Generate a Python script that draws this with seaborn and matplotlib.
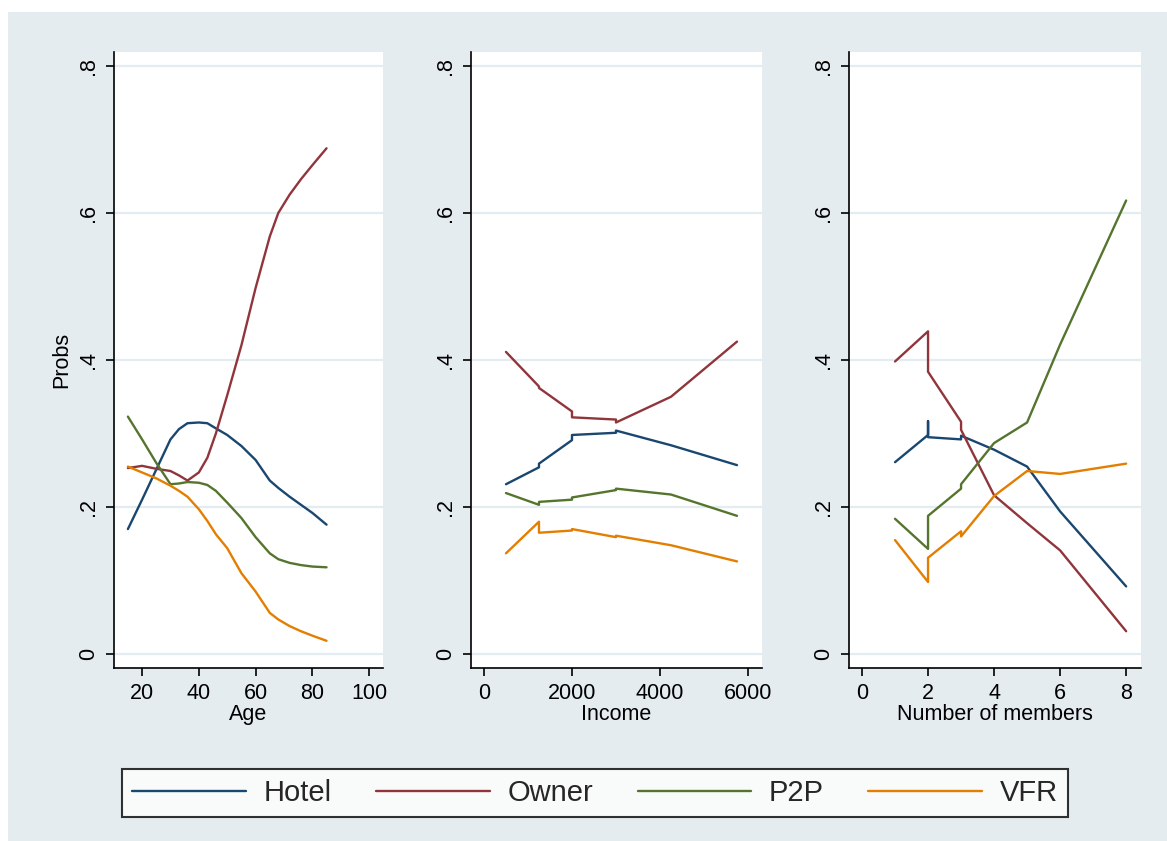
import numpy as np
import pandas as pd
import matplotlib
matplotlib.use("Agg")
import matplotlib.pyplot as plt
from matplotlib.patches import Rectangle
import seaborn as sns

# ---- data ----
alts = ["Hotel", "Owner", "P2P", "VFR"]
colors = ["#1a476f", "#90353b", "#55752f", "#e37e00"]

age = [15, 20, 25, 30, 33, 36, 40, 43, 46, 50, 55, 60, 65, 68, 72, 76, 80, 85]
age_hotel = [.170, .210, .251, .292, .306, .314, .315, .314, .307, .298, .283, .264, .236, .226, .214, .203, .192, .176]
age_owner = [.253, .256, .252, .249, .243, .236, .247, .267, .300, .352, .420, .498, .568, .600, .625, .646, .665, .688]
age_p2p = [.323, .292, .260, .231, .232, .234, .233, .230, .222, .206, .185, .159, .137, .129, .124, .121, .119, .118]
age_vfr = [.255, .247, .239, .229, .222, .214, .197, .181, .163, .144, .110, .085, .056, .047, .038, .031, .025, .018]

income = [500, 1250, 1250, 2000, 2000, 3000, 3000, 4250, 5750]
inc_hotel = [.231, .254, .259, .291, .298, .301, .304, .284, .257]
inc_owner = [.411, .364, .362, .330, .322, .319, .315, .350, .425]
inc_p2p = [.219, .203, .207, .210, .213, .223, .225, .217, .188]
inc_vfr = [.137, .180, .165, .168, .170, .159, .161, .148, .126]

members = [1, 2, 2, 2, 3, 3, 4, 5, 6, 8]
mem_hotel = [.261, .298, .317, .295, .292, .297, .278, .255, .194, .092]
mem_owner = [.398, .439, .439, .384, .316, .305, .216, .178, .141, .031]
mem_p2p = [.184, .143, .143, .188, .225, .231, .287, .315, .421, .617]
mem_vfr = [.155, .098, .098, .131, .167, .160, .215, .249, .245, .259]


def long_df(x, series):
    rows = []
    for name, vals in zip(alts, series):
        for i, (xv, yv) in enumerate(zip(x, vals)):
            rows.append({"x": xv, "prob": yv, "alt": name, "order": i})
    return pd.DataFrame(rows)


panels = [
    (long_df(age, [age_hotel, age_owner, age_p2p, age_vfr]), "Age", (10.1, 104.9), [20, 40, 60, 80, 100]),
    (long_df(income, [inc_hotel, inc_owner, inc_p2p, inc_vfr]), "Income", (-295, 6318), [0, 2000, 4000, 6000]),
    (long_df(members, [mem_hotel, mem_owner, mem_p2p, mem_vfr]), "Number of members", (-0.394, 8.45), [0, 2, 4, 6, 8]),
]

sns.set_theme(style="white")
plt.rcParams["font.family"] = ["Liberation Sans", "DejaVu Sans"]

W, H = 1167, 841
fig = plt.figure(figsize=(W / 100, H / 100), dpi=100)
fig.patch.set_facecolor("white")
bg = "#e4ecf0"
fig.add_artist(Rectangle((8 / W, 0), 1 - 8 / W, (H - 12) / H, transform=fig.transFigure,
                         facecolor=bg, edgecolor="none", zorder=-1))

lefts = [114, 471, 849]
widths = [269, 291, 292]
axes = []
for (df, xlabel, xlim, xticks), l, w in zip(panels, lefts, widths):
    ax = fig.add_axes([l / W, 173 / H, w / W, 616 / H])
    ax.set_facecolor("white")
    sns.lineplot(data=df, x="x", y="prob", hue="alt", hue_order=alts, palette=colors,
                 estimator=None, sort=False, linewidth=1.7, ax=ax, legend=(l == 114))
    ax.set_xlim(*xlim)
    ax.set_ylim(-0.019, 0.819)
    ax.set_xticks(xticks)
    ax.set_xticklabels([str(t) for t in xticks])
    ax.set_yticks([0, .2, .4, .6, .8])
    ax.set_yticklabels(["0", ".2", ".4", ".6", ".8"], rotation=90, va="center")
    ax.grid(axis="y", color="#e3ecf0", linewidth=1.6)
    ax.set_axisbelow(True)
    for s in ["top", "right"]:
        ax.spines[s].set_visible(False)
    for s in ["left", "bottom"]:
        ax.spines[s].set_color("black")
        ax.spines[s].set_linewidth(1.2)
    ax.tick_params(axis="both", direction="out", length=6, width=1.2, color="black",
                   labelsize=15.5, labelcolor="black", pad=5)
    ax.tick_params(axis="x", bottom=True)
    ax.tick_params(axis="y", left=True)
    ax.set_xlabel(xlabel, fontsize=15.5, color="black", labelpad=0)
    ax.set_ylabel("Probs" if l == 114 else "", fontsize=15.5, color="black", labelpad=4)
    axes.append(ax)

handles, labels = axes[0].get_legend_handles_labels()
axes[0].get_legend().remove()
for h in handles:
    h.set_linewidth(1.7)
leg = fig.legend(handles, labels, loc="lower left",
                 bbox_to_anchor=(122 / W, 24 / H, 946 / W, 53 / H), mode="expand",
                 ncol=4, frameon=True, fancybox=False, fontsize=21, handlelength=3.9,
                 handletextpad=0.6, borderaxespad=0, borderpad=0.35)
leg.get_frame().set_edgecolor("black")
leg.get_frame().set_linewidth(1.5)
leg.get_frame().set_facecolor("white")

fig.savefig("out.png", dpi=100, facecolor=fig.get_facecolor())
